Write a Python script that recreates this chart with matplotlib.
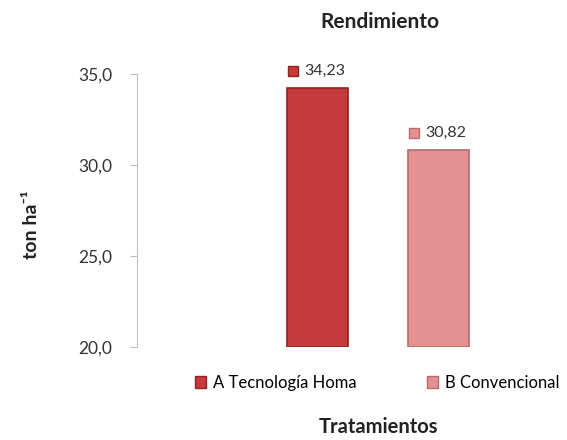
import matplotlib
matplotlib.use("Agg")
import matplotlib.pyplot as plt
from matplotlib.patches import Patch

plt.rcParams['font.family'] = ['Lato', 'DejaVu Sans']

series = ["A Tecnología Homa", "B Convencional"]
values = [34.23, 30.82]
labels = ["34,23", "30,82"]
colors = ["#c73a3b", "#e39193"]
edges = ["#8e2224", "#b86a6c"]
yticks = [20.0, 25.0, 30.0, 35.0]

fig = plt.figure(figsize=(5.67, 4.4), dpi=100)
ax = fig.add_axes([0.2416, 0.2114, 0.7584, 0.6204])

pos = [0, 1]
for p, v, c, e, lab in zip(pos, values, colors, edges, labels):
    ax.bar(p, v - 20, bottom=20, width=0.5, color=c, edgecolor=e, linewidth=1.2)
    # data label: small square + value
    ax.plot(p - 0.2, v + 0.95, marker='s', markersize=7, color=c,
            markeredgecolor=e, clip_on=False)
    ax.text(p - 0.11, v + 0.95, lab, ha='left', va='center', fontsize=11.5,
            color='#333333', clip_on=False)

ax.set_xlim(-1.49, 2.06)
ax.set_ylim(20, 35)
ax.set_yticks(yticks)
ax.set_yticklabels([f"{t:.1f}".replace('.', ',') for t in yticks],
                   fontsize=12.5, color='#333333')
ax.set_xticks([])
for s in ['top', 'right', 'bottom']:
    ax.spines[s].set_visible(False)
ax.spines['left'].set_color('#bfbfbf')
ax.tick_params(axis='y', length=5, color='#bfbfbf', pad=13)

fig.text(0.67, 0.95, "Rendimiento", ha='center', va='center',
         fontsize=15, fontweight='bold', color='#222222')
fig.text(0.055, 0.49, "ton ha⁻¹", rotation=90, ha='center', va='center',
         fontsize=14, fontweight='bold', color='#222222')
fig.text(0.667, 0.03, "Tratamientos", ha='center', va='center',
         fontsize=14.5, fontweight='bold', color='#222222')

handles = [Patch(facecolor=c, edgecolor=e, label=s)
           for c, e, s in zip(colors, edges, series)]
fig.legend(handles=handles, loc='center', bbox_to_anchor=(0.665, 0.13), ncol=2,
           frameon=False, fontsize=12, handlelength=0.7, handleheight=0.7,
           handletextpad=0.4, columnspacing=4.2)

fig.savefig("out.png", dpi=100)
